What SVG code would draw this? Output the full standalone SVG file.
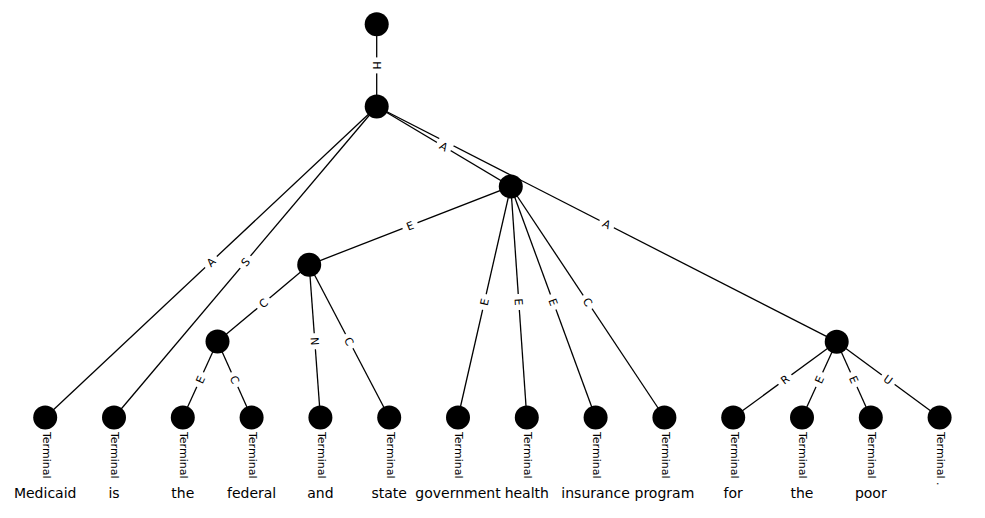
<svg xmlns="http://www.w3.org/2000/svg" width="985" height="518" viewBox="0 0 985 518">
<style>
.e{stroke:#000;stroke-width:1.3;fill:none}
.n{fill:#000}
.lb rect{fill:#fff}
.lb text{font-family:"DejaVu Sans",sans-serif;font-size:11px;text-anchor:middle;fill:#000}
.t{font-family:"DejaVu Sans",sans-serif;font-size:11px;fill:#000}
.w{font-family:"DejaVu Sans",sans-serif;font-size:14px;text-anchor:middle;fill:#000}
</style>
<defs>
<rect id="bx" x="-8" y="-7.5" width="16" height="15" fill="#fff"/>
</defs>
<rect width="985" height="518" fill="#fff"/>
<g id="connectors">
<line class="e" x1="376.7" y1="24.2" x2="376.7" y2="106.5"/>
<line class="e" x1="376.7" y1="106.5" x2="45.2" y2="417.5"/>
<line class="e" x1="376.7" y1="106.5" x2="114" y2="417.5"/>
<line class="e" x1="376.7" y1="106.5" x2="510.8" y2="186.5"/>
<line class="e" x1="376.7" y1="106.5" x2="836.7" y2="341.7"/>
<line class="e" x1="510.8" y1="186.5" x2="309.2" y2="264.8"/>
<line class="e" x1="510.8" y1="186.5" x2="458" y2="417.5"/>
<line class="e" x1="510.8" y1="186.5" x2="526.8" y2="417.5"/>
<line class="e" x1="510.8" y1="186.5" x2="595.6" y2="417.5"/>
<line class="e" x1="510.8" y1="186.5" x2="664.4" y2="417.5"/>
<line class="e" x1="309.2" y1="264.8" x2="217.5" y2="341.6"/>
<line class="e" x1="309.2" y1="264.8" x2="320.4" y2="417.5"/>
<line class="e" x1="309.2" y1="264.8" x2="389.2" y2="417.5"/>
<line class="e" x1="217.5" y1="341.6" x2="182.8" y2="417.5"/>
<line class="e" x1="217.5" y1="341.6" x2="251.6" y2="417.5"/>
<line class="e" x1="836.7" y1="341.7" x2="733.2" y2="417.5"/>
<line class="e" x1="836.7" y1="341.7" x2="802" y2="417.5"/>
<line class="e" x1="836.7" y1="341.7" x2="870.8" y2="417.5"/>
<line class="e" x1="836.7" y1="341.7" x2="939.6" y2="417.5"/>
</g>
<g id="nodes">
<g id="root"><circle class="n" cx="376.7" cy="24.2" r="12"/></g>
<g id="nA"><circle class="n" cx="376.7" cy="106.5" r="12"/></g>
<g id="nB"><circle class="n" cx="510.8" cy="186.5" r="12"/></g>
<g id="nC"><circle class="n" cx="309.2" cy="264.8" r="12"/></g>
<g id="nD"><circle class="n" cx="217.5" cy="341.6" r="12"/></g>
<g id="nE"><circle class="n" cx="836.7" cy="341.7" r="12"/></g>
<g id="t1"><circle class="n" cx="45.2" cy="417.5" r="12"/><text class="t" transform="translate(42.5,432) rotate(90)">Terminal</text><text class="w" x="45.2" y="498">Medicaid</text></g>
<g id="t2"><circle class="n" cx="114" cy="417.5" r="12"/><text class="t" transform="translate(111.3,432) rotate(90)">Terminal</text><text class="w" x="114" y="498">is</text></g>
<g id="t3"><circle class="n" cx="182.8" cy="417.5" r="12"/><text class="t" transform="translate(180.1,432) rotate(90)">Terminal</text><text class="w" x="182.8" y="498">the</text></g>
<g id="t4"><circle class="n" cx="251.6" cy="417.5" r="12"/><text class="t" transform="translate(248.9,432) rotate(90)">Terminal</text><text class="w" x="251.6" y="498">federal</text></g>
<g id="t5"><circle class="n" cx="320.4" cy="417.5" r="12"/><text class="t" transform="translate(317.7,432) rotate(90)">Terminal</text><text class="w" x="320.4" y="498">and</text></g>
<g id="t6"><circle class="n" cx="389.2" cy="417.5" r="12"/><text class="t" transform="translate(386.5,432) rotate(90)">Terminal</text><text class="w" x="389.2" y="498">state</text></g>
<g id="t7"><circle class="n" cx="458" cy="417.5" r="12"/><text class="t" transform="translate(455.3,432) rotate(90)">Terminal</text><text class="w" x="458" y="498">government</text></g>
<g id="t8"><circle class="n" cx="526.8" cy="417.5" r="12"/><text class="t" transform="translate(524.1,432) rotate(90)">Terminal</text><text class="w" x="526.8" y="498">health</text></g>
<g id="t9"><circle class="n" cx="595.6" cy="417.5" r="12"/><text class="t" transform="translate(592.9,432) rotate(90)">Terminal</text><text class="w" x="595.6" y="498">insurance</text></g>
<g id="t10"><circle class="n" cx="664.4" cy="417.5" r="12"/><text class="t" transform="translate(661.7,432) rotate(90)">Terminal</text><text class="w" x="664.4" y="498">program</text></g>
<g id="t11"><circle class="n" cx="733.2" cy="417.5" r="12"/><text class="t" transform="translate(730.5,432) rotate(90)">Terminal</text><text class="w" x="733.2" y="498">for</text></g>
<g id="t12"><circle class="n" cx="802" cy="417.5" r="12"/><text class="t" transform="translate(799.3,432) rotate(90)">Terminal</text><text class="w" x="802" y="498">the</text></g>
<g id="t13"><circle class="n" cx="870.8" cy="417.5" r="12"/><text class="t" transform="translate(868.1,432) rotate(90)">Terminal</text><text class="w" x="870.8" y="498">poor</text></g>
<g id="t14"><circle class="n" cx="939.6" cy="417.5" r="12"/><text class="t" transform="translate(936.9,432) rotate(90)">Terminal .</text></g>
</g>
<g id="edge-labels" class="lb">
<g transform="translate(376.7,65.4) rotate(90)"><use href="#bx"/><text y="4">H</text></g>
<g transform="translate(211,262) rotate(-43.2)"><use href="#bx"/><text y="4">A</text></g>
<g transform="translate(245.4,262) rotate(-49.8)"><use href="#bx"/><text y="4">S</text></g>
<g transform="translate(443.8,146.5) rotate(30.8)"><use href="#bx"/><text y="4">A</text></g>
<g transform="translate(606.7,224.1) rotate(27.1)"><use href="#bx"/><text y="4">A</text></g>
<g transform="translate(410,225.7) rotate(-21.2)"><use href="#bx"/><text y="4">E</text></g>
<g transform="translate(484.4,302) rotate(-77.1)"><use href="#bx"/><text y="4">E</text></g>
<g transform="translate(518.8,302) rotate(86)"><use href="#bx"/><text y="4">E</text></g>
<g transform="translate(553.2,302) rotate(69.8)"><use href="#bx"/><text y="4">E</text></g>
<g transform="translate(587.6,302) rotate(56.4)"><use href="#bx"/><text y="4">C</text></g>
<g transform="translate(263.4,303.2) rotate(-39.9)"><use href="#bx"/><text y="4">C</text></g>
<g transform="translate(314.8,341.2) rotate(85.8)"><use href="#bx"/><text y="4">N</text></g>
<g transform="translate(349.2,341.2) rotate(62.4)"><use href="#bx"/><text y="4">C</text></g>
<g transform="translate(200.2,379.6) rotate(-65.4)"><use href="#bx"/><text y="4">E</text></g>
<g transform="translate(234.6,379.6) rotate(65.8)"><use href="#bx"/><text y="4">C</text></g>
<g transform="translate(785,379.6) rotate(-36.2)"><use href="#bx"/><text y="4">R</text></g>
<g transform="translate(819.4,379.6) rotate(-65.4)"><use href="#bx"/><text y="4">E</text></g>
<g transform="translate(853.8,379.6) rotate(65.8)"><use href="#bx"/><text y="4">E</text></g>
<g transform="translate(888.2,379.6) rotate(36.4)"><use href="#bx"/><text y="4">U</text></g>
</g>
</svg>
